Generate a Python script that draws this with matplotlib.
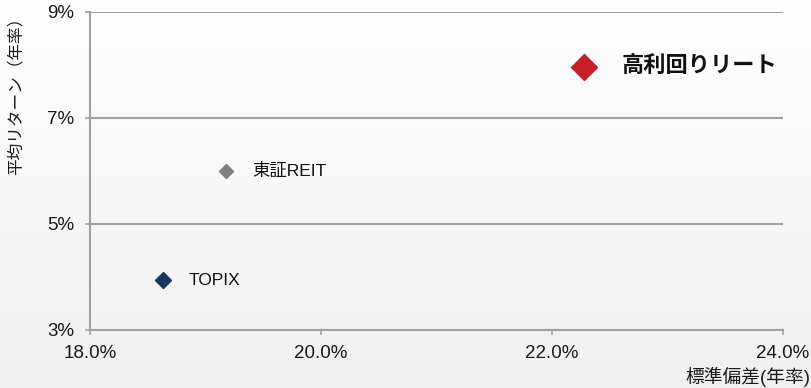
import numpy as np
import matplotlib
matplotlib.use("Agg")
import matplotlib.pyplot as plt
from matplotlib.colors import LinearSegmentedColormap
from matplotlib.ticker import FixedLocator, FuncFormatter

# Risk / return of each asset class (annualised, %)
names = ["高利回りリート", "東証REIT", "TOPIX"]
risk = [22.28, 19.18, 18.63]
ret = [7.97, 6.0, 3.94]

x_ticks = [18, 20, 22, 24]
y_ticks = [3, 5, 7, 9]
x_label = "標準偏差(年率)"
y_label = "平均リターン（年率）"

colors = ["#c42026", "#7f7f7f", "#17375e"]
marker_sizes = [13.5, 7.5, 8.5]
label_offsets = [26.5, 18.4, 18.4]
label_sizes = [16, 12.5, 12.5]
label_weights = ["bold", "normal", "normal"]

plt.rcParams["font.family"] = ["Liberation Sans", "Noto Sans CJK JP", "DejaVu Sans"]

W, H = 812, 388
fig = plt.figure(figsize=(W / 100, H / 100), dpi=100)

# soft vertical background gradient
bg = fig.add_axes([0, 0, 1, 1], zorder=-10)
grad = np.linspace(1, 0, 256).reshape(-1, 1)
bg.imshow(grad, aspect="auto",
          cmap=LinearSegmentedColormap.from_list("bg", ["#f0f0f0", "#ffffff"]),
          extent=[0, 1, 0, 1])
bg.axis("off")

left, right, top, bottom = 90, 783, 12, 330
ax = fig.add_axes([left / W, 1 - bottom / H, (right - left) / W, (bottom - top) / H])
ax.patch.set_alpha(0)

grid_c = "#a0a0a0"
ax.set_xlim(x_ticks[0], x_ticks[-1])
ax.set_ylim(y_ticks[0], y_ticks[-1])
ax.xaxis.set_major_locator(FixedLocator(x_ticks))
ax.yaxis.set_major_locator(FixedLocator(y_ticks))
ax.xaxis.set_major_formatter(FuncFormatter(lambda v, p: f"{v:.1f}%"))
ax.yaxis.set_major_formatter(FuncFormatter(lambda v, p: f"{v:.0f}%"))
ax.yaxis.grid(True, color=grid_c, lw=1.5)
ax.set_axisbelow(True)
for s in ["top", "right"]:
    ax.spines[s].set_visible(False)
for s in ["left", "bottom"]:
    ax.spines[s].set_color(grid_c)
    ax.spines[s].set_linewidth(1.5)
ax.tick_params(direction="out", length=3.6, width=1.2, color=grid_c,
               labelsize=13.5, labelcolor="#1a1a1a")
ax.tick_params(axis="y", pad=8)
ax.tick_params(axis="x", pad=7)

for n, x, y, c, ms, off, fs, fw in zip(names, risk, ret, colors, marker_sizes,
                                       label_offsets, label_sizes, label_weights):
    ax.plot([x], [y], marker="D", ms=ms, color=c, mec=c, linestyle="none",
            clip_on=False, zorder=3)
    ax.annotate(n, (x, y), xytext=(off, 0), textcoords="offset points",
                ha="left", va="center", fontsize=fs, fontweight=fw, color="#111111")

fig.text(16 / W, 1 - 9 / H, y_label, rotation=90, ha="center", va="top",
         fontsize=12, color="#1a1a1a")
fig.text(810 / W, 1 - 377 / H, x_label, ha="right", va="center",
         fontsize=13.5, color="#1a1a1a")

fig.savefig("out.png", dpi=100)
